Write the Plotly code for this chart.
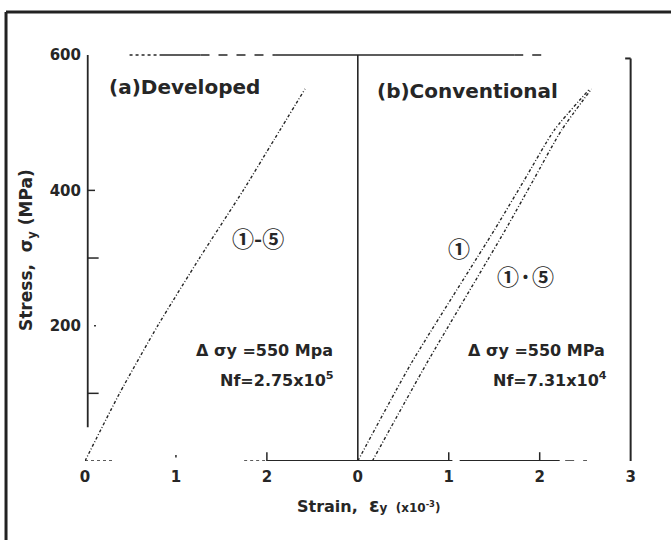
import plotly.graph_objects as go

# ---- data (strain in x10^-3, stress in MPa) ----
# (a) Developed: curves 1-5 overlap
dev_strain = [0.0, 0.38, 0.80, 1.26, 1.74, 2.08, 2.42]
dev_stress = [0, 100, 200, 300, 400, 475, 550]

# (b) Conventional: curve 1 and curves 1-5
conv1_strain = [0.0, 0.59, 1.50, 1.83, 2.16, 2.55]
conv1_stress = [0, 145, 341, 415, 489, 550]
conv15_strain = [0.16, 0.76, 1.62, 1.93, 2.24, 2.57]
conv15_stress = [0, 145, 341, 415, 489, 550]

panel_offset = 3.0  # panel (b) drawn to the right of panel (a) on a shared strain axis

x_tick_vals = [0, 1, 2, 3, 4, 5, 6]
x_tick_text = ["0", "1", "2", "0", "1", "2", "3"]
y_tick_vals = [200, 400, 600]
y_tick_text = ["200", "400", "600"]

INK = "#262626"
FONT = "DejaVu Sans, Noto Sans CJK JP, sans-serif"
CIRC = "Noto Sans CJK JP, DejaVu Sans, sans-serif"

fig = go.Figure()
curve_dash = "3px,2px,1px,2px"
for xs, ys in [(dev_strain, dev_stress),
               ([s + panel_offset for s in conv1_strain], conv1_stress),
               ([s + panel_offset for s in conv15_strain], conv15_stress)]:
    fig.add_trace(go.Scatter(x=xs, y=ys, mode="lines",
                             line=dict(color=INK, width=1.4, dash=curve_dash, shape="spline", smoothing=0.6),
                             showlegend=False))

shapes = []
def seg(x0, y0, x1, y1, w=1.6, dash="solid"):
    shapes.append(dict(type="line", xref="x", yref="y", x0=x0, y0=y0, x1=x1, y1=y1,
                       line=dict(color=INK, width=w, dash=dash)))

# left stress axis
seg(0.03, 50, 0.03, 600, 1.8)
for yv, ln in [(100, 0.12), (300, 0.12), (400, 0.08)]:
    seg(0.03, yv, 0.03 + ln, yv, 1.5)
seg(0.1, 200, 0.12, 200, 1.5)
# centre and right vertical lines
seg(3.0, 0, 3.0, 600, 1.6)
seg(6.0, -5, 6.0, 595, 2.0)
seg(5.94, 595, 6.0, 595, 2.0)
# top line at 600
seg(0.49, 600, 0.82, 600, 1.4, "dot")
seg(0.82, 600, 1.27, 600, 1.6)
seg(1.27, 600, 2.1, 600, 1.6, "dash")
seg(2.1, 600, 4.72, 600, 1.6)
seg(4.72, 600, 5.1, 600, 1.4, "dash")
# bottom strain axis
seg(0.0, 0, 0.32, 0, 1.4, "dot")
seg(1.0, 5, 1.0, 9, 1.5)
seg(1.75, 0, 1.98, 0, 1.4, "dot")
seg(2.0, 0, 4.04, 0, 1.8)
seg(4.12, 0, 5.22, 0, 1.8)
seg(5.28, 0, 5.52, 0, 1.6, "dash")
for xv in [2.0, 4.0, 5.0]:
    seg(xv, -3, xv, 13, 1.5)

# outer frame (left and top)
fx = -0.1357
fy = 1.037
shapes.append(dict(type="line", xref="paper", yref="paper", x0=fx, y0=fy, x1=fx, y1=-0.3,
                   line=dict(color="#222", width=3)))
shapes.append(dict(type="line", xref="paper", yref="paper", x0=fx, y0=fy, x1=1.1, y1=fy,
                   line=dict(color="#222", width=3)))

ann = []
def txt(x, y, t, size, bold=False, family=FONT, **kw):
    d = dict(x=x, y=y, xref="x", yref="y", text=("<b>%s</b>" % t) if bold else t, showarrow=False,
             xanchor="center", yanchor="middle",
             font=dict(family=family, size=size, color=INK))
    d.update(kw)
    ann.append(d)

txt(1.09, 553, "(a)Developed", 20, True)
txt(4.21, 547, "(b)Conventional", 20, True)
txt(1.90, 331, "①-⑤", 22, True, family=CIRC)
txt(4.11, 316, "①", 22, True, family=CIRC)
txt(4.84, 275, "①·⑤", 22, True, family=CIRC)
txt(1.97, 164, "Δ σy =550 Mpa", 16, True)
txt(4.97, 164, "Δ σy =550 MPa", 16, True)
txt(2.11, 121, "Nf=2.75x10<sup>5</sup>", 16, True)
txt(5.11, 121, "Nf=7.31x10<sup>4</sup>", 16, True)

ann.append(dict(x=-58 / 582, y=(461 - 250) / 433, xref="paper", yref="paper", textangle=-90,
                xanchor="center", yanchor="middle",
                text="<b>Stress,  σ<sub>y</sub> (MPa)</b>", showarrow=False,
                font=dict(family=FONT, size=17, color=INK)))
ann.append(dict(x=(368 - 85) / 582, y=-(505 - 461) / 433, xref="paper", yref="paper",
                xanchor="center", yanchor="middle",
                text="<b>Strain,  <span style='font-size:19px'>ε</span>"
                     "<span style='font-size:12px'>y  (x10<sup>-3</sup>)</span></b>",
                showarrow=False, font=dict(family=FONT, size=16, color=INK)))

fig.update_layout(
    width=671, height=540,
    margin=dict(l=85, r=4, t=28, b=79),
    paper_bgcolor="white", plot_bgcolor="white",
    shapes=shapes, annotations=ann,
    xaxis=dict(range=[0, 6.4], showgrid=False, zeroline=False, showline=False,
               tickvals=x_tick_vals, ticktext=["<b>%s</b>" % t for t in x_tick_text],
               ticks="", ticklabelstandoff=5,
               tickfont=dict(family=FONT, size=15, color=INK)),
    yaxis=dict(range=[0, 640], showgrid=False, zeroline=False, showline=False,
               tickvals=y_tick_vals, ticktext=["<b>%s</b>" % t for t in y_tick_text],
               ticks="", ticklabelstandoff=3,
               tickfont=dict(family=FONT, size=15, color=INK)),
)

fig.write_html("out.html")
